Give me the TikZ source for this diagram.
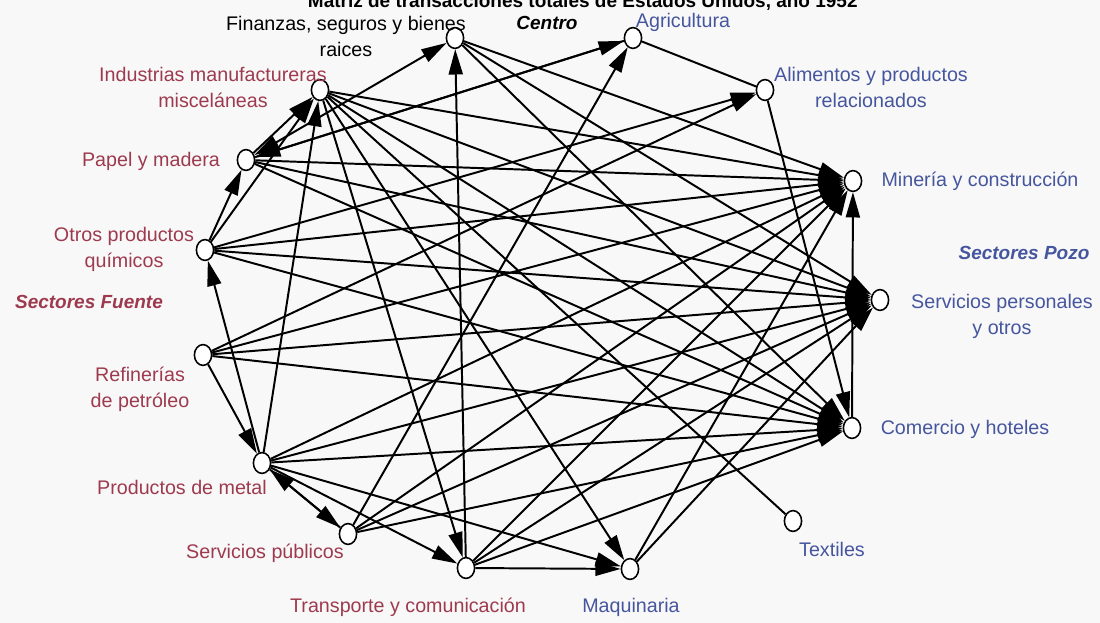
\documentclass[tikz,border=0pt]{standalone}
\usepackage{fontspec}
\setmainfont{Liberation Sans}
\usetikzlibrary{arrows.meta,shapes.geometric}
\definecolor{srcred}{RGB}{158,58,78}
\definecolor{sinkblue}{RGB}{70,86,158}
\definecolor{paper}{RGB}{248,248,248}
\begin{document}
\begin{tikzpicture}[x=0.025cm,y=-0.025cm,
  sector/.style={ellipse,draw,line width=1.1pt,fill=white,minimum width=0.43cm,minimum height=0.52cm,inner sep=0pt},
  lab/.style={font=\fontsize{14}{18.5}\selectfont,align=center,inner sep=0pt},
  srclab/.style={lab,text=srcred},
  sinklab/.style={lab,text=sinkblue},
  grouplab/.style={font=\fontsize{13.5}{16}\selectfont\bfseries\itshape,inner sep=0pt},
  flow/.style={-{Triangle[length=18pt,width=10pt]},line width=1.4pt},
  twoway/.style={{Triangle[length=18pt,width=10pt]}-{Triangle[length=18pt,width=10pt]},line width=1.4pt},
  plain/.style={line width=1.4pt}]
\fill[paper] (0,0) rectangle (1100,623);
\useasboundingbox (0,0) rectangle (1100,623);

% title, running off the top edge
\node[font=\fontsize{13.5}{15}\selectfont\bfseries,anchor=base west] (title) at (303,8)
  {Matriz de transacciones totales de Estados Unidos, año 1952};

% sectors
\node[sector] (fin) at (455,38) {};
\node[sector] (agr) at (633,38) {};
\node[sector] (ali) at (765,90) {};
\node[sector] (min) at (853,181) {};
\node[sector] (ser) at (880,300) {};
\node[sector] (com) at (852,428) {};
\node[sector] (tex) at (793,521) {};
\node[sector] (maq) at (630,569) {};
\node[sector] (tra) at (466,568) {};
\node[sector] (sp)  at (348,534) {};
\node[sector] (met) at (262,463) {};
\node[sector] (ref) at (203,355) {};
\node[sector] (otr) at (205,250) {};
\node[sector] (pap) at (246,160) {};
\node[sector] (ind) at (320,90) {};

% labels
\node[lab] (finl) at (346,36) {Finanzas, seguros y bienes\\ raices};
\node[grouplab] (cent) at (547,23) {Centro};
\node[sinklab] (agrl) at (683,22) {Agricultura};
\node[sinklab] (alil) at (871,87) {Alimentos y productos\\relacionados};
\node[sinklab] (minl) at (980,181) {Minería y construcción};
\node[grouplab,text=sinkblue] (pozo) at (1024,253) {Sectores Pozo};
\node[sinklab] (serl) at (1002,316) {Servicios personales\\y otros};
\node[sinklab] (coml) at (965,429) {Comercio y hoteles};
\node[sinklab] (texl) at (832,549) {Textiles};
\node[sinklab] (maql) at (631,607) {Maquinaria};
\node[srclab] (tral) at (408,607) {Transporte y comunicación};
\node[srclab] (spl)  at (265,553) {Servicios públicos};
\node[srclab] (metl) at (182,487) {Productos de metal};
\node[srclab] (refl) at (140,389) {Refinerías\\de petróleo};
\node[grouplab,text=srcred] (fuente) at (89,302) {Sectores Fuente};
\node[srclab] (otrl) at (124,249) {Otros productos\\químicos};
\node[srclab] (papl) at (151,161) {Papel y madera};
\node[srclab] (indl) at (213,87) {Industrias manufactureras\\misceláneas};

% flows between sectors
\foreach \a/\b in {
  pap/ind, otr/pap, otr/ind, met/otr, ref/met, sp/met, met/sp, met/ind,
  tra/fin, ind/tra, met/tra, tra/maq, ind/maq, met/maq, ali/com, com/min,
  pap/agr, otr/ali, ref/ali, agr/pap, sp/agr,
  fin/min, fin/ser, fin/com,
  ind/min, ind/ser, ind/com,
  pap/min, pap/ser, pap/com,
  otr/min, otr/ser, otr/com,
  ref/min, ref/ser, ref/com,
  met/min, met/ser, met/com,
  sp/min, sp/ser, sp/com,
  tra/min, tra/ser, tra/com,
  maq/min, maq/ser}
  \draw[flow] (\a) -- (\b);
\draw[twoway] (pap) -- (fin);
\draw[plain] (ind) -- (tex);
\draw[plain] (agr) -- (ali);
\end{tikzpicture}
\end{document}
